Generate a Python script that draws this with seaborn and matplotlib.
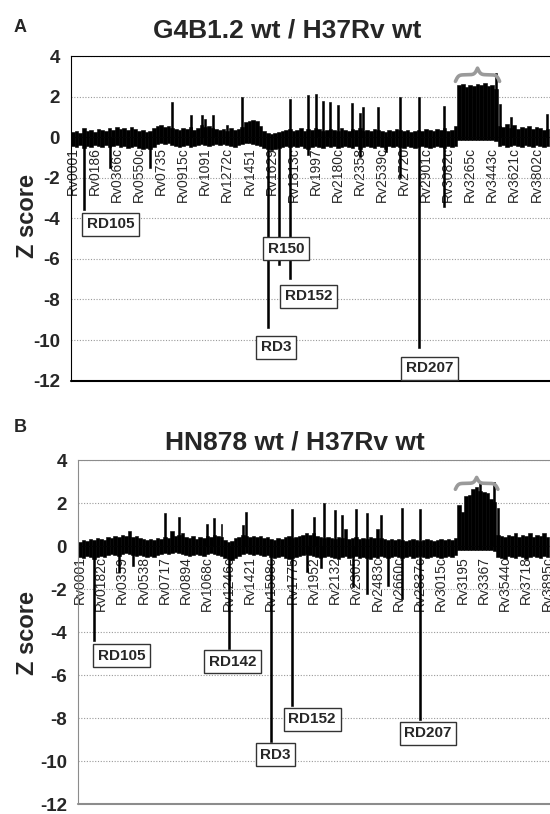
import numpy as np
import pandas as pd
import matplotlib
matplotlib.use("Agg")
import matplotlib.pyplot as plt
import seaborn as sns

# Z score per gene bin (~30 genes per bin).
# Each bin keeps the upper and lower edge of the noise band; single-gene
# spikes are kept apart so they can be drawn as thin bars.

a_ticks = ["Rv0001", "Rv0186", "Rv0366c", "Rv0550c", "Rv0735", "Rv0915c",
           "Rv1091", "Rv1272c", "Rv1451", "Rv1629", "Rv1813c", "Rv1997",
           "Rv2180c", "Rv2358", "Rv2539c", "Rv2720", "Rv2901c", "Rv3082c",
           "Rv3265c", "Rv3443c", "Rv3621c", "Rv3802c"]
b_ticks = ["Rv0001", "Rv0182c", "Rv0359", "Rv0538", "Rv0717", "Rv0894",
           "Rv1068c", "Rv1246c", "Rv1421", "Rv1598c", "Rv1775", "Rv1952",
           "Rv2132", "Rv2305", "Rv2483c", "Rv2660c", "Rv2837c", "Rv3015c",
           "Rv3195", "Rv3367", "Rv3544c", "Rv3718", "Rv3895c"]

a_up = [0.25, 0.3, 0.2, 0.45, 0.3, 0.35, 0.25, 0.4, 0.35, 0.3,
        0.45, 0.35, 0.5, 0.4, 0.45, 0.35, 0.5, 0.4, 0.3, 0.35,
        0.25, 0.3, 0.45, 0.55, 0.6, 0.5, 0.55, 0.45, 0.4, 0.35,
        0.45, 0.4, 0.5, 0.35, 0.45, 0.6, 0.5, 0.55, 0.45, 0.4,
        0.35, 0.4, 0.3, 0.45, 0.35, 0.4, 0.5, 0.75, 0.8, 0.85,
        0.8, 0.55, 0.3, 0.2, 0.15, 0.2, 0.25, 0.3, 0.35, 0.4,
        0.3, 0.35, 0.45, 0.3, 0.4, 0.35, 0.45, 0.4, 0.3, 0.35,
        0.4, 0.35, 0.3, 0.45, 0.35, 0.3, 0.4, 0.35, 0.45, 0.3,
        0.35, 0.3, 0.4, 0.35, 0.3, 0.25, 0.35, 0.3, 0.4, 0.35,
        0.3, 0.35, 0.25, 0.3, 0.35, 0.3, 0.4, 0.35, 0.3, 0.4,
        0.35, 0.45, 0.3, 0.35, 0.55, 2.55, 2.6, 2.45, 2.55, 2.5,
        2.6, 2.55, 2.65, 2.5, 2.55, 2.35, 0.55, 0.5, 0.65, 0.45,
        0.6, 0.4, 0.5, 0.45, 0.55, 0.4, 0.5, 0.45, 0.35, 0.4]
a_down = [-0.45, -0.5, -0.4, -0.55, -0.45, -0.5, -0.4, -0.45, -0.5, -0.4,
          -0.5, -0.45, -0.4, -0.5, -0.45, -0.55, -0.5, -0.45, -0.55, -0.6,
          -0.55, -0.6, -0.5, -0.35, -0.3, -0.35, -0.3, -0.4, -0.45, -0.5,
          -0.45, -0.4, -0.5, -0.45, -0.4, -0.35, -0.4, -0.45, -0.4, -0.35,
          -0.4, -0.35, -0.4, -0.45, -0.5, -0.4, -0.35, -0.3, -0.3, -0.35,
          -0.4, -0.45, -0.55, -0.6, -0.65, -0.6, -0.55, -0.5, -0.45, -0.5,
          -0.45, -0.5, -0.45, -0.55, -0.6, -0.5, -0.45, -0.5, -0.55, -0.45,
          -0.5, -0.45, -0.55, -0.5, -0.45, -0.5, -0.55, -0.45, -0.6, -0.5,
          -0.45, -0.5, -0.55, -0.45, -0.5, -0.6, -0.45, -0.5, -0.45, -0.5,
          -0.55, -0.45, -0.5, -0.55, -0.5, -0.45, -0.5, -0.55, -0.5, -0.45,
          -0.5, -0.55, -0.45, -0.5, -0.45, -0.15, -0.15, -0.15, -0.15, -0.15,
          -0.15, -0.15, -0.15, -0.15, -0.15, -0.2, -0.45, -0.4, -0.5, -0.45,
          -0.4, -0.45, -0.5, -0.4, -0.45, -0.5, -0.4, -0.45, -0.5, -0.45]
a_spikes_up = {27: 1.75, 32: 1.1, 35: 1.1, 36: 0.9, 38: 1.1, 42: 0.6, 46: 2.0,
               59: 1.9, 64: 2.07, 66: 2.15, 68: 1.8, 70: 1.75, 72: 1.6, 76: 1.7,
               78: 1.2, 79: 1.5, 83: 1.5, 89: 2.0, 94: 2.0, 101: 1.55, 115: 3.15,
               116: 1.65, 119: 1.0, 129: 1.15}
a_spikes_down = {3: -3.6, 10: -1.5, 21: -1.5, 53: -9.4, 56: -6.3, 59: -7.0,
                 64: -0.9, 78: -1.0, 85: -0.75, 89: -2.0, 94: -10.4, 101: -3.45}
a_block = (105, 115)
a_labels = {"RD105": (10.3, -4.3), "R150": (57.9, -5.5), "RD152": (64.1, -7.85),
            "RD3": (55.2, -10.35), "RD207": (97.0, -11.4)}

b_up = [0.2, 0.3, 0.25, 0.35, 0.3, 0.4, 0.35, 0.3, 0.45, 0.4,
        0.5, 0.45, 0.55, 0.5, 0.7, 0.45, 0.5, 0.4, 0.35, 0.3,
        0.35, 0.3, 0.4, 0.35, 0.45, 0.4, 0.7, 0.5, 0.55, 0.6,
        0.45, 0.4, 0.5, 0.35, 0.45, 0.4, 0.5, 0.45, 0.55, 0.5,
        0.45, 0.3, 0.2, 0.25, 0.4, 0.45, 0.55, 0.5, 0.45, 0.5,
        0.45, 0.5, 0.4, 0.45, 0.35, 0.3, 0.4, 0.35, 0.45, 0.5,
        0.4, 0.45, 0.5, 0.55, 0.6, 0.55, 0.6, 0.5, 0.45, 0.4,
        0.45, 0.4, 0.35, 0.45, 0.4, 0.8, 0.35, 0.4, 0.45, 0.35,
        0.4, 0.35, 0.45, 0.4, 0.8, 0.4, 0.35, 0.3, 0.35, 0.3,
        0.35, 0.3, 0.25, 0.3, 0.35, 0.3, 0.25, 0.3, 0.35, 0.3,
        0.25, 0.3, 0.35, 0.3, 0.35, 0.3, 0.4, 1.95, 1.6, 2.35,
        2.4, 2.65, 2.75, 2.6, 2.55, 2.5, 2.2, 2.05, 0.55, 0.5,
        0.45, 0.55, 0.5, 0.6, 0.45, 0.55, 0.5, 0.6, 0.45, 0.55,
        0.5, 0.6, 0.45]
b_down = [-0.5, -0.55, -0.45, -0.5, -0.6, -0.5, -0.45, -0.5, -0.4, -0.35,
          -0.4, -0.45, -0.35, -0.3, -0.35, -0.4, -0.45, -0.4, -0.45, -0.5,
          -0.45, -0.5, -0.4, -0.35, -0.3, -0.35, -0.3, -0.25, -0.3, -0.35,
          -0.4, -0.45, -0.4, -0.35, -0.4, -0.45, -0.35, -0.3, -0.35, -0.4,
          -0.45, -0.55, -0.6, -0.65, -0.55, -0.45, -0.35, -0.3, -0.35, -0.4,
          -0.35, -0.4, -0.45, -0.4, -0.5, -0.55, -0.5, -0.45, -0.55, -0.6,
          -0.55, -0.5, -0.45, -0.4, -0.35, -0.4, -0.45, -0.5, -0.55, -0.5,
          -0.45, -0.5, -0.55, -0.6, -0.5, -0.45, -0.55, -0.5, -0.45, -0.55,
          -0.5, -0.55, -0.6, -0.5, -0.55, -0.45, -0.5, -0.55, -0.5, -0.45,
          -0.5, -0.55, -0.5, -0.45, -0.55, -0.5, -0.45, -0.5, -0.55, -0.5,
          -0.45, -0.5, -0.55, -0.5, -0.45, -0.5, -0.4, -0.15, -0.15, -0.15,
          -0.15, -0.15, -0.15, -0.15, -0.15, -0.15, -0.15, -0.2, -0.5, -0.55,
          -0.6, -0.45, -0.5, -0.55, -0.45, -0.5, -0.6, -0.5, -0.45, -0.5,
          -0.55, -0.45, -0.5]
b_spikes_up = {24: 1.55, 28: 1.35, 36: 1.05, 38: 1.3, 40: 1.05, 46: 1.0, 47: 1.6,
               60: 1.75, 66: 1.35, 69: 2.0, 72: 1.7, 74: 1.45, 78: 1.75, 81: 1.55,
               85: 1.45, 91: 1.78, 96: 1.72, 113: 2.95, 117: 3.0, 118: 1.8}
b_spikes_down = {4: -4.4, 11: -1.2, 15: -0.9, 42: -4.8, 54: -9.1, 60: -7.45,
                 64: -1.2, 68: -1.0, 77: -1.9, 81: -2.2, 87: -1.85, 91: -2.45,
                 96: -8.1}
b_block = (107, 117)
b_labels = {"RD105": (11.8, -5.1), "RD142": (43.1, -5.37), "RD3": (55.2, -9.7),
            "RD152": (65.6, -8.06), "RD207": (98.3, -8.7)}

sns.set_style("white")
plt.rcParams["font.family"] = ["Liberation Sans", "DejaVu Sans"]
plt.rcParams["axes.unicode_minus"] = False


def brace(ax, x0, x1, y0, h):
    """Curly brace over a range, tip pointing up."""
    t = np.linspace(0, 0.5, 120)
    half = 1 / (1 + np.exp(-30 * t)) + 1 / (1 + np.exp(-30 * (t - 0.5))) - 0.5
    xs = np.concatenate([x0 + t * (x1 - x0), x0 + (0.5 + t) * (x1 - x0)])
    ys = np.concatenate([half, half[::-1]]) * h + y0
    ax.plot(xs, ys, color="#9a9a9a", lw=2.6, solid_capstyle="round", zorder=4)


def draw_panel(ax, up, down, spk_up, spk_down, ticks, labels, block,
               brace_base, brace_h, frame, tick_fs):
    n = len(up)
    bins = np.arange(n)
    s_up = np.zeros(n)
    s_down = np.zeros(n)
    for k, v in spk_up.items():
        s_up[k] = v
    for k, v in spk_down.items():
        s_down[k] = v
    df = pd.DataFrame({"bin": bins, "up": up, "down": down,
                       "s_up": s_up, "s_down": s_down})

    for col, w in [("up", 1.0), ("down", 1.0), ("s_up", 0.55), ("s_down", 0.55)]:
        sns.barplot(data=df, x="bin", y=col, native_scale=True, width=w,
                    color="black", saturation=1, edgecolor="black",
                    linewidth=0.4, errorbar=None, ax=ax)

    ax.set_xlim(-0.5, n - 0.3)
    ax.set_ylim(-12, 4)
    ax.set_yticks(np.arange(-12, 5, 2))
    ax.set_yticklabels([str(v) for v in range(-12, 5, 2)],
                       fontsize=13.5, fontweight="bold")
    ax.set_xticks(np.arange(len(ticks)) * 6)
    ax.set_xticklabels(ticks, fontsize=tick_fs, color="#222222")
    ax.tick_params(axis="x", length=0, pad=7, labelrotation=90)
    ax.tick_params(axis="y", length=4, width=1, color=frame, pad=4)
    ax.set_xlabel("")
    ax.set_ylabel("")
    ax.set_axisbelow(True)
    ax.yaxis.grid(True, color="#9a9a9a", linestyle=(0, (1, 1.5)), lw=0.8)
    ax.xaxis.grid(False)

    ax.spines["bottom"].set_position(("data", 0))
    ax.spines["bottom"].set_visible(False)
    ax.spines["right"].set_visible(False)
    ax.spines["left"].set_color(frame)
    ax.spines["top"].set_color(frame)
    ax.axhline(-12, color=frame, lw=1.5, clip_on=False, zorder=3)

    brace(ax, block[0] - 1, block[1] + 1, brace_base, brace_h)

    for text, (bx, bz) in labels.items():
        ax.text(bx, bz, text, ha="center", va="center", fontsize=11,
                fontweight="bold", zorder=6,
                bbox=dict(boxstyle="square,pad=0.3", fc="white", ec="#333333", lw=1))


fig = plt.figure(figsize=(5.5, 8.14), dpi=100)
ax_a = fig.add_axes([0.129, 0.5324, 0.871, 0.3988])
ax_b = fig.add_axes([0.1418, 0.0122, 0.8582, 0.4221])

draw_panel(ax_a, a_up, a_down, a_spikes_up, a_spikes_down, a_ticks, a_labels,
           a_block, 2.75, 0.65, "black", 8.5)
draw_panel(ax_b, b_up, b_down, b_spikes_up, b_spikes_down, b_ticks, b_labels,
           b_block, 2.66, 0.55, "#8c8c8c", 8)

fig.text(287 / 550, 1 - 30 / 814, "G4B1.2 wt / H37Rv wt", ha="center", va="center",
         fontsize=19, fontweight="bold")
fig.text(295 / 550, 1 - 442 / 814, "HN878 wt / H37Rv wt", ha="center", va="center",
         fontsize=19, fontweight="bold")
fig.text(20 / 550, 1 - 27 / 814, "A", ha="center", va="center", fontsize=13,
         fontweight="bold")
fig.text(20 / 550, 1 - 428 / 814, "B", ha="center", va="center", fontsize=13,
         fontweight="bold")
fig.text(27 / 550, 1 - 216 / 814, "Z score", rotation=90, ha="center", va="center",
         fontsize=17, fontweight="bold")
fig.text(27 / 550, 1 - 633 / 814, "Z score", rotation=90, ha="center", va="center",
         fontsize=17, fontweight="bold")

fig.savefig("out.png", dpi=100)
